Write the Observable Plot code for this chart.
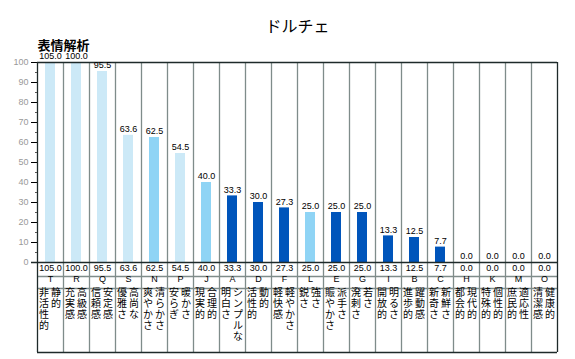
<!DOCTYPE html>
<html><head><meta charset="utf-8">
<script src="https://cdn.jsdelivr.net/npm/d3@7"></script>
<script src="https://cdn.jsdelivr.net/npm/@observablehq/plot@0.6"></script>
<style>
body{margin:0;background:#fff;}
#chart svg [aria-label^="y-axis"] text{fill:#999;}
</style>
</head><body><div id="chart"></div>
<script>
const categories = ["T","R","Q","S","N","P","J","A","D","F","L","E","G","I","B","C","H","K","M","O"];
const values = [105.0,100.0,95.5,63.6,62.5,54.5,40.0,33.3,30.0,27.3,25.0,25.0,25.0,13.3,12.5,7.7,0.0,0.0,0.0,0.0];
const tones = ["pale","pale","pale","pale","mid","pale","mid","dark","dark","dark","mid","dark","dark","dark","dark","dark","dark","dark","dark","dark"];
const phraseRight = ["静的","高級感","安定感","高尚な","清らかさ","暖かさ","合理的","シンプルな","動的","軽やかさ","強さ","派手さ","若さ","明るさ","躍動感","新鮮さ","現代的","個性的","適応性","健康的"];
const phraseLeft = ["非活性的","充実感","信頼感","優雅さ","爽やかさ","安らぎ","現実的","明白さ","活性的","軽快感","鋭さ","賑やかさ","溌剌さ","開放的","進歩的","新奇さ","都会的","特殊的","庶民的","清潔感"];
const yTicks = [0,10,20,30,40,50,60,70,80,90,100];
const yMinor = [5,15,25,35,45,55,65,75,85,95];
const title = "ドルチェ";
const subtitle = "表情解析";

const rows = categories.map((c,i)=>({cat:c, value:values[i], tone:tones[i], right:phraseRight[i], left:phraseLeft[i]}));
const vert = s => Array.from(s).join("\n");
const jp = "Noto Sans CJK JP";
const dark = "#1e2a2a", grid = "#7f8c8a";

const chart = Plot.plot({
  width: 575, height: 359,
  marginTop: 62, marginBottom: 97, marginLeft: 37, marginRight: 18,
  style: {fontFamily: "Liberation Sans, Arial, sans-serif", fontSize: "9px", background: "#fff"},
  x: {domain: categories, padding: 0, axis: null},
  y: {domain: [0,100], clamp: true, ticks: yTicks, tickSize: 6, tickPadding: 3, label: null, tickFormat: d=>d},
  color: {domain: ["pale","mid","dark"], range: ["#cce9f7","#8fd4f5","#0055bb"]},
  marks: [
    Plot.ruleX(categories.slice(1), {x: d=>d, dx: -13, insetBottom: -90, stroke: grid, strokeWidth: 1.3}),
    Plot.ruleY([0], {dy: 14, stroke: grid, strokeWidth: 1.3}),
    Plot.ruleY([0], {dy: 26, stroke: grid, strokeWidth: 1.3}),
    Plot.barY(rows, {x: "cat", y: "value", fill: "tone", insetLeft: 8, insetRight: 8}),
    Plot.ruleY([100], {stroke: dark, strokeWidth: 1.3}),
    Plot.ruleY([0], {stroke: dark, strokeWidth: 1.3, insetLeft: -6}),
    Plot.ruleY([0], {dy: 90, stroke: dark, strokeWidth: 1.5}),
    Plot.ruleX([categories[0]], {x: d=>d, dx: -13, insetBottom: -90, stroke: dark, strokeWidth: 1.3}),
    Plot.ruleX([categories[categories.length-1]], {x: d=>d, dx: 13, insetBottom: -90, stroke: dark, strokeWidth: 1.3}),
    Plot.ruleY(yMinor, {insetLeft: -2, insetRight: 520, stroke: "#555"}),
    Plot.text(rows, {x: "cat", y: "value", text: d=>d.value.toFixed(1), dy: -6, fill: "#000"}),
    Plot.text(rows, {x: "cat", frameAnchor: "bottom", dy: 8, text: d=>d.value.toFixed(1), fill: "#000"}),
    Plot.text(rows, {x: "cat", frameAnchor: "bottom", dy: 19.5, text: "cat", fill: "#000"}),
    Plot.text(rows, {x: "cat", frameAnchor: "bottom", dy: 26, dx: 5.5, lineAnchor: "top", lineHeight: 1.1, text: d=>vert(d.right), fontFamily: jp, fontSize: 10, fill: "#000"}),
    Plot.text(rows, {x: "cat", frameAnchor: "bottom", dy: 26, dx: -6.5, lineAnchor: "top", lineHeight: 1.1, text: d=>vert(d.left), fontFamily: jp, fontSize: 10, fill: "#000"}),
    Plot.text([title], {frameAnchor: "top", dy: -42, text: d=>d, fontFamily: jp, fontSize: 16, fill: "#000"}),
    Plot.text([subtitle], {frameAnchor: "top-left", textAnchor: "start", dy: -22, text: d=>d, fontFamily: jp, fontSize: 13, fontWeight: "bold", fill: "#000"})
  ]
});
document.getElementById("chart").appendChild(chart);
</script>
</body></html>
